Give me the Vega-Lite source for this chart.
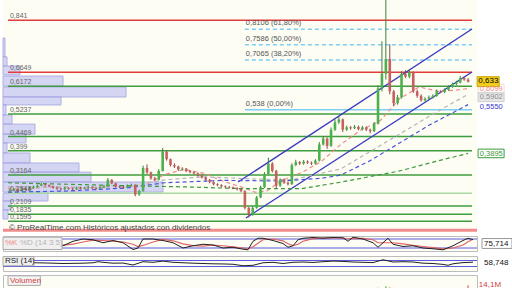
{
"$schema": "https://vega.github.io/schema/vega-lite/v6.json",
"background": "#ffffff",
"padding": 0,
"spacing": 2,
"config": {"font": "Liberation Sans", "view": {"fill": "#fdfdf4", "stroke": null}},
"resolve": {"scale": {"x": "independent", "y": "independent"}},
"datasets": {
"c": [
{"d":2,"o":0.262,"h":0.270,"l":0.258,"c":0.265,"v":1},
{"d":6,"o":0.265,"h":0.272,"l":0.262,"c":0.268,"v":1},
{"d":10,"o":0.268,"h":0.270,"l":0.258,"c":0.262,"v":1},
{"d":14,"o":0.262,"h":0.274,"l":0.260,"c":0.270,"v":1},
{"d":18,"o":0.270,"h":0.273,"l":0.263,"c":0.266,"v":1},
{"d":22,"o":0.266,"h":0.276,"l":0.264,"c":0.272,"v":1},
{"d":26,"o":0.272,"h":0.280,"l":0.270,"c":0.276,"v":1},
{"d":30,"o":0.276,"h":0.284,"l":0.273,"c":0.280,"v":1},
{"d":34,"o":0.280,"h":0.290,"l":0.278,"c":0.285,"v":1},
{"d":38,"o":0.285,"h":0.288,"l":0.278,"c":0.282,"v":1},
{"d":42,"o":0.282,"h":0.284,"l":0.275,"c":0.278,"v":1},
{"d":46,"o":0.278,"h":0.280,"l":0.270,"c":0.274,"v":1},
{"d":50,"o":0.274,"h":0.277,"l":0.266,"c":0.270,"v":1},
{"d":54,"o":0.270,"h":0.273,"l":0.264,"c":0.268,"v":1},
{"d":58,"o":0.268,"h":0.276,"l":0.265,"c":0.272,"v":1},
{"d":62,"o":0.272,"h":0.275,"l":0.266,"c":0.270,"v":1},
{"d":66,"o":0.270,"h":0.273,"l":0.264,"c":0.268,"v":1},
{"d":70,"o":0.268,"h":0.277,"l":0.266,"c":0.273,"v":1},
{"d":74,"o":0.273,"h":0.276,"l":0.267,"c":0.270,"v":1},
{"d":78,"o":0.270,"h":0.276,"l":0.268,"c":0.272,"v":1},
{"d":82,"o":0.272,"h":0.279,"l":0.270,"c":0.275,"v":1},
{"d":86,"o":0.275,"h":0.278,"l":0.269,"c":0.272,"v":1},
{"d":90,"o":0.272,"h":0.275,"l":0.266,"c":0.270,"v":2},
{"d":94,"o":0.270,"h":0.278,"l":0.268,"c":0.274,"v":3},
{"d":98,"o":0.274,"h":0.283,"l":0.272,"c":0.278,"v":2},
{"d":102,"o":0.278,"h":0.306,"l":0.276,"c":0.300,"v":4},
{"d":106,"o":0.300,"h":0.302,"l":0.285,"c":0.288,"v":2},
{"d":110,"o":0.288,"h":0.290,"l":0.274,"c":0.278,"v":1},
{"d":114,"o":0.278,"h":0.281,"l":0.272,"c":0.276,"v":1},
{"d":118,"o":0.276,"h":0.279,"l":0.270,"c":0.274,"v":1},
{"d":122,"o":0.274,"h":0.284,"l":0.272,"c":0.280,"v":3},
{"d":126,"o":0.280,"h":0.287,"l":0.277,"c":0.282,"v":3},
{"d":130,"o":0.282,"h":0.284,"l":0.244,"c":0.250,"v":4},
{"d":134,"o":0.250,"h":0.266,"l":0.246,"c":0.262,"v":3},
{"d":138,"o":0.262,"h":0.348,"l":0.260,"c":0.340,"v":5},
{"d":142,"o":0.340,"h":0.352,"l":0.320,"c":0.325,"v":3},
{"d":146,"o":0.325,"h":0.328,"l":0.300,"c":0.305,"v":3},
{"d":150,"o":0.305,"h":0.310,"l":0.296,"c":0.300,"v":2},
{"d":154,"o":0.300,"h":0.336,"l":0.298,"c":0.330,"v":3},
{"d":158,"o":0.330,"h":0.408,"l":0.328,"c":0.395,"v":5},
{"d":162,"o":0.395,"h":0.400,"l":0.365,"c":0.370,"v":3},
{"d":166,"o":0.370,"h":0.372,"l":0.345,"c":0.350,"v":2},
{"d":170,"o":0.350,"h":0.356,"l":0.340,"c":0.345,"v":2},
{"d":174,"o":0.345,"h":0.348,"l":0.330,"c":0.335,"v":2},
{"d":178,"o":0.335,"h":0.343,"l":0.332,"c":0.338,"v":2},
{"d":182,"o":0.338,"h":0.340,"l":0.326,"c":0.330,"v":2},
{"d":186,"o":0.330,"h":0.333,"l":0.322,"c":0.326,"v":2},
{"d":190,"o":0.326,"h":0.329,"l":0.318,"c":0.322,"v":2},
{"d":194,"o":0.322,"h":0.325,"l":0.311,"c":0.315,"v":1},
{"d":198,"o":0.315,"h":0.318,"l":0.304,"c":0.308,"v":1},
{"d":202,"o":0.308,"h":0.311,"l":0.296,"c":0.300,"v":1},
{"d":206,"o":0.300,"h":0.303,"l":0.288,"c":0.292,"v":1},
{"d":210,"o":0.292,"h":0.295,"l":0.281,"c":0.285,"v":1},
{"d":214,"o":0.285,"h":0.288,"l":0.278,"c":0.282,"v":1},
{"d":218,"o":0.282,"h":0.285,"l":0.274,"c":0.278,"v":2},
{"d":222,"o":0.278,"h":0.281,"l":0.272,"c":0.276,"v":2},
{"d":226,"o":0.276,"h":0.279,"l":0.270,"c":0.274,"v":2},
{"d":230,"o":0.274,"h":0.277,"l":0.268,"c":0.272,"v":1},
{"d":234,"o":0.272,"h":0.275,"l":0.264,"c":0.268,"v":1},
{"d":238,"o":0.268,"h":0.270,"l":0.258,"c":0.262,"v":2},
{"d":242,"o":0.262,"h":0.264,"l":0.200,"c":0.205,"v":3},
{"d":246,"o":0.205,"h":0.208,"l":0.172,"c":0.182,"v":4},
{"d":250,"o":0.182,"h":0.210,"l":0.178,"c":0.205,"v":3},
{"d":254,"o":0.205,"h":0.245,"l":0.202,"c":0.240,"v":3},
{"d":258,"o":0.240,"h":0.280,"l":0.238,"c":0.275,"v":3},
{"d":262,"o":0.275,"h":0.326,"l":0.272,"c":0.320,"v":4},
{"d":266,"o":0.320,"h":0.375,"l":0.318,"c":0.355,"v":5},
{"d":270,"o":0.355,"h":0.360,"l":0.325,"c":0.330,"v":3},
{"d":274,"o":0.330,"h":0.334,"l":0.270,"c":0.280,"v":4},
{"d":278,"o":0.280,"h":0.305,"l":0.276,"c":0.300,"v":2},
{"d":282,"o":0.300,"h":0.304,"l":0.286,"c":0.290,"v":2},
{"d":286,"o":0.290,"h":0.294,"l":0.281,"c":0.285,"v":1},
{"d":290,"o":0.285,"h":0.356,"l":0.283,"c":0.350,"v":3},
{"d":294,"o":0.350,"h":0.368,"l":0.346,"c":0.360,"v":2},
{"d":298,"o":0.360,"h":0.364,"l":0.350,"c":0.355,"v":2},
{"d":302,"o":0.355,"h":0.367,"l":0.351,"c":0.362,"v":2},
{"d":306,"o":0.362,"h":0.366,"l":0.354,"c":0.358,"v":1},
{"d":310,"o":0.358,"h":0.362,"l":0.350,"c":0.355,"v":1},
{"d":314,"o":0.355,"h":0.370,"l":0.352,"c":0.365,"v":2},
{"d":318,"o":0.365,"h":0.428,"l":0.362,"c":0.420,"v":4},
{"d":322,"o":0.420,"h":0.448,"l":0.416,"c":0.440,"v":3},
{"d":326,"o":0.440,"h":0.444,"l":0.405,"c":0.415,"v":3},
{"d":330,"o":0.415,"h":0.478,"l":0.412,"c":0.470,"v":4},
{"d":334,"o":0.470,"h":0.505,"l":0.466,"c":0.495,"v":3},
{"d":338,"o":0.495,"h":0.515,"l":0.490,"c":0.505,"v":3},
{"d":342,"o":0.505,"h":0.508,"l":0.462,"c":0.470,"v":3},
{"d":346,"o":0.470,"h":0.484,"l":0.466,"c":0.478,"v":2},
{"d":350,"o":0.478,"h":0.482,"l":0.470,"c":0.475,"v":2},
{"d":354,"o":0.475,"h":0.486,"l":0.472,"c":0.480,"v":2},
{"d":358,"o":0.480,"h":0.484,"l":0.468,"c":0.472,"v":2},
{"d":362,"o":0.472,"h":0.483,"l":0.468,"c":0.478,"v":2},
{"d":366,"o":0.478,"h":0.481,"l":0.465,"c":0.470,"v":2},
{"d":370,"o":0.470,"h":0.474,"l":0.458,"c":0.465,"v":2},
{"d":374,"o":0.465,"h":0.496,"l":0.462,"c":0.490,"v":3},
{"d":378,"o":0.490,"h":0.620,"l":0.488,"c":0.610,"v":8},
{"d":382,"o":0.610,"h":0.770,"l":0.600,"c":0.660,"v":7},
{"d":386,"o":0.660,"h":0.960,"l":0.640,"c":0.710,"v":12},
{"d":390,"o":0.710,"h":0.760,"l":0.590,"c":0.600,"v":9},
{"d":394,"o":0.600,"h":0.605,"l":0.550,"c":0.560,"v":6},
{"d":398,"o":0.560,"h":0.588,"l":0.555,"c":0.580,"v":4},
{"d":402,"o":0.580,"h":0.668,"l":0.576,"c":0.660,"v":6},
{"d":406,"o":0.660,"h":0.672,"l":0.645,"c":0.650,"v":4},
{"d":410,"o":0.650,"h":0.675,"l":0.645,"c":0.665,"v":4},
{"d":414,"o":0.665,"h":0.668,"l":0.595,"c":0.600,"v":5},
{"d":418,"o":0.600,"h":0.606,"l":0.578,"c":0.585,"v":3},
{"d":422,"o":0.585,"h":0.590,"l":0.565,"c":0.570,"v":3},
{"d":426,"o":0.570,"h":0.580,"l":0.566,"c":0.575,"v":2},
{"d":430,"o":0.575,"h":0.586,"l":0.572,"c":0.580,"v":2},
{"d":434,"o":0.580,"h":0.590,"l":0.576,"c":0.585,"v":2},
{"d":438,"o":0.585,"h":0.606,"l":0.582,"c":0.600,"v":3},
{"d":442,"o":0.600,"h":0.604,"l":0.594,"c":0.598,"v":2},
{"d":446,"o":0.598,"h":0.610,"l":0.594,"c":0.605,"v":2},
{"d":450,"o":0.605,"h":0.620,"l":0.602,"c":0.615,"v":3},
{"d":454,"o":0.615,"h":0.630,"l":0.612,"c":0.625,"v":3},
{"d":458,"o":0.625,"h":0.636,"l":0.620,"c":0.630,"v":3},
{"d":462,"o":0.630,"h":0.652,"l":0.627,"c":0.645,"v":4},
{"d":466,"o":0.645,"h":0.650,"l":0.636,"c":0.640,"v":3},
{"d":470,"o":0.640,"h":0.645,"l":0.630,"c":0.633,"v":14.1}
],
"ma": [
{"k":"r","d":0,"v":0.270},{"k":"r","d":20,"v":0.268},{"k":"r","d":40,"v":0.276},{"k":"r","d":60,"v":0.275},{"k":"r","d":80,"v":0.272},{"k":"r","d":100,"v":0.276},{"k":"r","d":120,"v":0.280},{"k":"r","d":140,"v":0.282},{"k":"r","d":160,"v":0.318},{"k":"r","d":180,"v":0.335},{"k":"r","d":200,"v":0.322},{"k":"r","d":220,"v":0.295},{"k":"r","d":240,"v":0.274},{"k":"r","d":252,"v":0.258},{"k":"r","d":264,"v":0.262},{"k":"r","d":280,"v":0.298},{"k":"r","d":300,"v":0.325},{"k":"r","d":320,"v":0.362},{"k":"r","d":340,"v":0.420},{"k":"r","d":360,"v":0.468},{"k":"r","d":380,"v":0.500},{"k":"r","d":400,"v":0.575},{"k":"r","d":420,"v":0.615},{"k":"r","d":440,"v":0.600},{"k":"r","d":460,"v":0.605},{"k":"r","d":470,"v":0.6099},
{"k":"g","d":0,"v":0.276},{"k":"g","d":60,"v":0.275},{"k":"g","d":120,"v":0.276},{"k":"g","d":160,"v":0.300},{"k":"g","d":200,"v":0.310},{"k":"g","d":250,"v":0.303},{"k":"g","d":290,"v":0.300},{"k":"g","d":340,"v":0.337},{"k":"g","d":372,"v":0.400},{"k":"g","d":400,"v":0.455},{"k":"g","d":430,"v":0.515},{"k":"g","d":470,"v":0.5902},
{"k":"b","d":0,"v":0.258},{"k":"b","d":60,"v":0.262},{"k":"b","d":120,"v":0.272},{"k":"b","d":160,"v":0.290},{"k":"b","d":220,"v":0.298},{"k":"b","d":280,"v":0.296},{"k":"b","d":320,"v":0.305},{"k":"b","d":340,"v":0.316},{"k":"b","d":370,"v":0.365},{"k":"b","d":400,"v":0.425},{"k":"b","d":430,"v":0.485},{"k":"b","d":470,"v":0.555},
{"k":"gr","d":0,"v":0.290},{"k":"gr","d":60,"v":0.285},{"k":"gr","d":120,"v":0.280},{"k":"gr","d":180,"v":0.276},{"k":"gr","d":240,"v":0.270},{"k":"gr","d":300,"v":0.270},{"k":"gr","d":340,"v":0.292},{"k":"gr","d":400,"v":0.330},{"k":"gr","d":440,"v":0.365},{"k":"gr","d":470,"v":0.3895}
],
"prof": [
{"lo":0.717,"hi":0.781,"w":2},{"lo":0.686,"hi":0.717,"w":4},{"lo":0.656,"hi":0.686,"w":17},{"lo":0.618,"hi":0.652,"w":60},{"lo":0.581,"hi":0.615,"w":123},{"lo":0.554,"hi":0.581,"w":58},{"lo":0.520,"hi":0.554,"w":3},{"lo":0.489,"hi":0.520,"w":9},{"lo":0.455,"hi":0.489,"w":32},{"lo":0.425,"hi":0.455,"w":23},{"lo":0.391,"hi":0.425,"w":4},{"lo":0.357,"hi":0.391,"w":27},{"lo":0.326,"hi":0.357,"w":76},{"lo":0.2925,"hi":0.326,"w":88},{"lo":0.2586,"hi":0.2925,"w":160},{"lo":0.228,"hi":0.255,"w":45},{"lo":0.1975,"hi":0.228,"w":8},{"lo":0.167,"hi":0.1975,"w":5}
],
"lv": [
{"v":0.841,"t":"0,841"},{"v":0.6649,"t":"0,6649"},{"v":0.6172,"t":"0,6172"},{"v":0.5237,"t":"0,5237"},{"v":0.4469,"t":"0,4469"},{"v":0.399,"t":"0,399"},{"v":0.3164,"t":"0,3164"},{"v":0.2548,"t":"0,2548"},{"v":0.2109,"t":"0,2109"},{"v":0.1835,"t":"0,1835"},{"v":0.1595,"t":"0,1595"}
],
"fib": [
{"v":0.8106,"t":"0,8106 (61,80%)"},{"v":0.7586,"t":"0,7586 (50,00%)"},{"v":0.7065,"t":"0,7065 (38,20%)"},{"v":0.538,"t":"0,538 (0,00%)"}
],
"chan": [
{"d0":235,"v0":0.2925,"d1":474,"v1":0.8117},
{"d0":243,"v0":0.1704,"d1":474,"v1":0.6658}
],
"rl": [
{"v":0.6099,"t":"0,6099","k":"r"},{"v":0.3895,"t":"0,3895","k":"gr"}
],
"rlg": [
{"v":0.5902,"t":"0,5902"}
],
"rlb": [
{"v":0.555,"t":"0,5550"}
],
"st": [
{"d":0,"K":50,"D":50},{"d":10,"K":55,"D":52},{"d":20,"K":55,"D":54},{"d":30,"K":50,"D":53},{"d":40,"K":45,"D":50},{"d":50,"K":38,"D":44},{"d":60,"K":35,"D":39},{"d":70,"K":65,"D":46},{"d":80,"K":80,"D":60},{"d":90,"K":75,"D":73},{"d":100,"K":55,"D":70},{"d":110,"K":70,"D":66},{"d":120,"K":55,"D":60},{"d":130,"K":10,"D":45},{"d":135,"K":20,"D":30},{"d":140,"K":80,"D":37},{"d":150,"K":80,"D":60},{"d":160,"K":70,"D":77},{"d":170,"K":55,"D":68},{"d":180,"K":20,"D":48},{"d":190,"K":35,"D":36},{"d":200,"K":45,"D":33},{"d":210,"K":40,"D":40},{"d":220,"K":20,"D":35},{"d":230,"K":25,"D":28},{"d":240,"K":12,"D":20},{"d":245,"K":8,"D":15},{"d":250,"K":65,"D":28},{"d":255,"K":85,"D":52},{"d":260,"K":85,"D":75},{"d":270,"K":70,"D":80},{"d":280,"K":50,"D":68},{"d":285,"K":25,"D":48},{"d":290,"K":35,"D":36},{"d":295,"K":75,"D":45},{"d":300,"K":85,"D":65},{"d":310,"K":90,"D":83},{"d":320,"K":85,"D":87},{"d":330,"K":90,"D":88},{"d":340,"K":88,"D":88},{"d":345,"K":65,"D":80},{"d":350,"K":92,"D":82},{"d":360,"K":80,"D":84},{"d":370,"K":55,"D":75},{"d":375,"K":25,"D":55},{"d":385,"K":85,"D":55},{"d":390,"K":45,"D":55},{"d":400,"K":30,"D":48},{"d":410,"K":35,"D":37},{"d":420,"K":20,"D":30},{"d":430,"K":15,"D":22},{"d":440,"K":8,"D":14},{"d":450,"K":35,"D":20},{"d":460,"K":70,"D":40},{"d":465,"K":85,"D":62},{"d":470,"K":75.7,"D":78}
],
"rsi": [
{"d":30,"r":55},{"d":40,"r":54},{"d":50,"r":52},{"d":60,"r":50},{"d":70,"r":51},{"d":80,"r":52},{"d":90,"r":55},{"d":95,"r":62},{"d":100,"r":58},{"d":110,"r":52},{"d":120,"r":53},{"d":130,"r":40},{"d":140,"r":62},{"d":150,"r":58},{"d":160,"r":66},{"d":170,"r":58},{"d":180,"r":55},{"d":190,"r":52},{"d":200,"r":50},{"d":210,"r":48},{"d":220,"r":47},{"d":230,"r":45},{"d":240,"r":35},{"d":250,"r":38},{"d":260,"r":55},{"d":270,"r":58},{"d":280,"r":50},{"d":290,"r":58},{"d":300,"r":60},{"d":310,"r":57},{"d":320,"r":62},{"d":330,"r":66},{"d":340,"r":64},{"d":350,"r":60},{"d":360,"r":58},{"d":370,"r":56},{"d":380,"r":75},{"d":390,"r":60},{"d":400,"r":62},{"d":410,"r":60},{"d":420,"r":52},{"d":430,"r":50},{"d":440,"r":44},{"d":445,"r":38},{"d":450,"r":48},{"d":460,"r":56},{"d":470,"r":58.75}
]
},
"vconcat": [
{
"width": 474, "height": 232,
"resolve": {"scale": {"x": "independent"}},
"layer": [
{"data": {"name": "prof"},
 "mark": {"type": "rect", "fill": "#cacaf3", "stroke": "#9c9ce2", "strokeWidth": 1, "opacity": 0.8},
 "encoding": {
  "x": {"field": "w", "type": "quantitative", "scale": {"domain": [0, 474], "nice": false}, "axis": null},
  "x2": {"datum": 0},
  "y": {"field": "lo", "type": "quantitative", "scale": {"domain": [0.1229, 0.9101], "nice": false, "zero": false},
        "axis": {"orient": "right", "title": null, "values": [0.15,0.2,0.25,0.3,0.35,0.4,0.45,0.5,0.55,0.6,0.65,0.7,0.75,0.8,0.85,0.9],
                 "labelExpr": "indexof([40,55,60,65], round(datum.value*100)) >= 0 ? '' : replace(format(datum.value, '.2~f'), '.', ',')",
                 "labelFontSize": 8, "labelColor": "#333", "labelPadding": 2, "tickSize": 4, "tickColor": "#555", "domainColor": "#666",
                 "grid": true, "gridColor": "#ebebdf"}},
  "y2": {"field": "hi"}
 }},
{"layer": [
 {"data": {"name": "lv"},
  "mark": {"type": "rule", "color": "#3f9c3f", "strokeWidth": 1.5},
  "encoding": {
   "x": {"datum": 0, "type": "quantitative", "scale": {"domain": [0, 474], "nice": false, "zero": false},
         "axis": {"values": [23,67,110,153,198,240,283,328,365,407,450], "grid": true, "gridColor": "#e3e3d6", "labels": false, "ticks": false, "domain": false, "title": null}},
   "x2": {"datum": 474},
   "y": {"field": "v", "type": "quantitative", "scale": {"domain": [0.1229, 0.9101], "nice": false, "zero": false}, "axis": null},
   "color": {"condition": [{"test": "datum.v > 0.8 || (datum.v > 0.66 && datum.v < 0.67)", "value": "#e23c3c"}, {"test": "datum.v > 0.25 && datum.v < 0.26", "value": "#a9d9a2"}], "value": "#3f9c3f"},
   "strokeWidth": {"condition": [{"test": "abs(datum.v - 0.6172) < 0.001 || abs(datum.v - 0.3164) < 0.001 || abs(datum.v - 0.2548) < 0.001", "value": 2.6}, {"test": "datum.v > 0.8", "value": 2}], "value": 1.4}
  }},
 {"data": {"values": [{"v": 0.1285}]},
  "mark": {"type": "rule", "color": "#f08c8c", "strokeWidth": 3},
  "encoding": {"y": {"field": "v", "type": "quantitative", "scale": {"domain": [0.1229, 0.9101], "nice": false, "zero": false}, "axis": null}}},
 {"data": {"name": "fib"},
  "mark": {"type": "rule", "color": "#7dcdf5", "strokeWidth": 1.5, "strokeDash": [4, 3]},
  "encoding": {
   "x": {"datum": 242, "type": "quantitative", "scale": {"domain": [0, 474], "nice": false, "zero": false}, "axis": null},
   "x2": {"datum": 474},
   "y": {"field": "v", "type": "quantitative", "scale": {"domain": [0.1229, 0.9101], "nice": false, "zero": false}, "axis": null},
   "strokeDash": {"condition": {"test": "datum.v < 0.6", "value": [1, 0]}, "value": [4, 3]},
   "strokeWidth": {"condition": {"test": "datum.v < 0.6", "value": 2}, "value": 1.5}
  }},
 {"data": {"name": "chan"},
  "mark": {"type": "rule", "color": "#3a3ac2", "strokeWidth": 1.4},
  "encoding": {
   "x": {"field": "d0", "type": "quantitative", "scale": {"domain": [0, 474], "nice": false, "zero": false}, "axis": null},
   "x2": {"field": "d1"},
   "y": {"field": "v0", "type": "quantitative", "scale": {"domain": [0.1229, 0.9101], "nice": false, "zero": false}, "axis": null},
   "y2": {"field": "v1"}
  }},
 {"data": {"name": "ma"},
  "mark": {"type": "line", "strokeWidth": 1.2, "strokeDash": [4, 3]},
  "encoding": {
   "x": {"field": "d", "type": "quantitative", "scale": {"domain": [0, 474], "nice": false, "zero": false}, "axis": null},
   "y": {"field": "v", "type": "quantitative", "scale": {"domain": [0.1229, 0.9101], "nice": false, "zero": false}, "axis": null},
   "color": {"field": "k", "type": "nominal", "scale": {"domain": ["r", "g", "b", "gr"], "range": ["#f08a8a", "#b5b5b5", "#4a55d8", "#3c9a3c"]}, "legend": null}
  }},
 {"data": {"name": "c"},
  "mark": {"type": "rule", "strokeWidth": 1, "clip": true},
  "encoding": {
   "x": {"field": "d", "type": "quantitative", "scale": {"domain": [0, 474], "nice": false, "zero": false}, "axis": null},
   "y": {"field": "l", "type": "quantitative", "scale": {"domain": [0.1229, 0.9101], "nice": false, "zero": false}, "axis": null},
   "y2": {"field": "h"},
   "color": {"condition": {"test": "datum.c >= datum.o", "value": "#3d7f3d"}, "value": "#8a4a4a"}
  }},
 {"data": {"name": "c"},
  "mark": {"type": "bar", "width": 2.6, "clip": true},
  "encoding": {
   "x": {"field": "d", "type": "quantitative", "scale": {"domain": [0, 474], "nice": false, "zero": false}, "axis": null},
   "y": {"field": "o", "type": "quantitative", "scale": {"domain": [0.1229, 0.9101], "nice": false, "zero": false}, "axis": null},
   "y2": {"field": "c"},
   "color": {"condition": {"test": "datum.c >= datum.o", "value": "#4cb04c"}, "value": "#c96060"}
  }},
 {"data": {"name": "lv"},
  "mark": {"type": "text", "align": "left", "baseline": "bottom", "fontSize": 7, "color": "#666", "dy": -1},
  "encoding": {
   "x": {"datum": 2, "type": "quantitative", "scale": {"domain": [0, 474], "nice": false, "zero": false}, "axis": null},
   "y": {"field": "v", "type": "quantitative", "scale": {"domain": [0.1229, 0.9101], "nice": false, "zero": false}, "axis": null},
   "text": {"field": "t"}
  }},
 {"data": {"name": "fib"},
  "mark": {"type": "text", "align": "left", "baseline": "bottom", "fontSize": 7.5, "color": "#555", "dy": -2},
  "encoding": {
   "x": {"datum": 243, "type": "quantitative", "scale": {"domain": [0, 474], "nice": false, "zero": false}, "axis": null},
   "y": {"field": "v", "type": "quantitative", "scale": {"domain": [0.1229, 0.9101], "nice": false, "zero": false}, "axis": null},
   "text": {"field": "t"}
  }},
 {"data": {"values": [{"v": 0.1375, "t": "© ProRealTime.com  Históricos ajustados con dividendos"}]},
  "mark": {"type": "text", "align": "left", "baseline": "middle", "fontSize": 8, "color": "#444"},
  "encoding": {
   "x": {"datum": 1, "type": "quantitative", "scale": {"domain": [0, 474], "nice": false, "zero": false}, "axis": null},
   "y": {"field": "v", "type": "quantitative", "scale": {"domain": [0.1229, 0.9101], "nice": false, "zero": false}, "axis": null},
   "text": {"field": "t"}
  }},
 {"data": {"name": "rl"},
  "mark": {"type": "point", "filled": true, "opacity": 1, "strokeWidth": 1, "size": 676, "shape": "M-1,-0.33L1,-0.33L1,0.33L-1,0.33Z"},
  "encoding": {
   "x": {"datum": 493.5, "type": "quantitative", "scale": {"domain": [0, 474], "nice": false, "zero": false}, "axis": null},
   "y": {"field": "v", "type": "quantitative", "scale": {"domain": [0.1229, 0.9101], "nice": false, "zero": false}, "axis": null},
   "fill": {"field": "k", "type": "nominal", "scale": {"domain": ["r", "gr"], "range": ["#ffffff", "#ffffff"]}, "legend": null},
   "stroke": {"field": "k", "type": "nominal", "scale": {"domain": ["r", "gr"], "range": ["#f4dada", "#3c9a3c"]}, "legend": null}
  }},
 {"data": {"name": "rlg"},
  "mark": {"type": "point", "filled": true, "opacity": 1, "strokeWidth": 1, "size": 676, "shape": "M-1,-0.115L1,-0.115L1,0.577L-1,0.577Z", "color": "#e6e6e6", "stroke": "#cccccc"},
  "encoding": {
   "x": {"datum": 493.5, "type": "quantitative", "scale": {"domain": [0, 474], "nice": false, "zero": false}, "axis": null},
   "y": {"field": "v", "type": "quantitative", "scale": {"domain": [0.1229, 0.9101], "nice": false, "zero": false}, "axis": null}
  }},
 {"data": {"name": "rlb"},
  "mark": {"type": "point", "filled": true, "opacity": 1, "strokeWidth": 0, "size": 676, "shape": "M-1,-0.154L1,-0.154L1,0.538L-1,0.538Z", "color": "#ffffff"},
  "encoding": {
   "x": {"datum": 493.5, "type": "quantitative", "scale": {"domain": [0, 474], "nice": false, "zero": false}, "axis": null},
   "y": {"field": "v", "type": "quantitative", "scale": {"domain": [0.1229, 0.9101], "nice": false, "zero": false}, "axis": null}
  }},
 {"data": {"values": [{"v": 0.633, "t": "0,633"}]},
  "mark": {"type": "point", "filled": true, "opacity": 1, "color": "#f3cf1c", "stroke": "#c9a400", "strokeWidth": 1, "size": 484, "shape": "M-1,-0.45L1,-0.45L1,0.45L-1,0.45Z"},
  "encoding": {
   "x": {"datum": 490.5, "type": "quantitative", "scale": {"domain": [0, 474], "nice": false, "zero": false}, "axis": null},
   "y": {"field": "v", "type": "quantitative", "scale": {"domain": [0.1229, 0.9101], "nice": false, "zero": false}, "axis": null}
  }},
 {"data": {"values": [{"v": 0.633, "t": "0,633"}]},
  "mark": {"type": "text", "align": "left", "baseline": "middle", "fontSize": 8, "color": "#000", "dy": -0.5},
  "encoding": {
   "x": {"datum": 480.5, "type": "quantitative", "scale": {"domain": [0, 474], "nice": false, "zero": false}, "axis": null},
   "y": {"field": "v", "type": "quantitative", "scale": {"domain": [0.1229, 0.9101], "nice": false, "zero": false}, "axis": null},
   "text": {"field": "t"}
  }},
 {"data": {"name": "rl"},
  "mark": {"type": "text", "align": "left", "baseline": "middle", "fontSize": 7.5, "dy": 0.5},
  "encoding": {
   "x": {"datum": 482, "type": "quantitative", "scale": {"domain": [0, 474], "nice": false, "zero": false}, "axis": null},
   "y": {"field": "v", "type": "quantitative", "scale": {"domain": [0.1229, 0.9101], "nice": false, "zero": false}, "axis": null},
   "text": {"field": "t"},
   "color": {"field": "k", "type": "nominal", "scale": {"domain": ["r", "gr"], "range": ["#e06a6a", "#2e862e"]}, "legend": null}
  }},
 {"data": {"name": "rlg"},
  "mark": {"type": "text", "align": "left", "baseline": "middle", "fontSize": 7.5, "dy": 3, "color": "#8c8c8c"},
  "encoding": {
   "x": {"datum": 482, "type": "quantitative", "scale": {"domain": [0, 474], "nice": false, "zero": false}, "axis": null},
   "y": {"field": "v", "type": "quantitative", "scale": {"domain": [0.1229, 0.9101], "nice": false, "zero": false}, "axis": null},
   "text": {"field": "t"}
  }},
 {"data": {"name": "rlb"},
  "mark": {"type": "text", "align": "left", "baseline": "middle", "fontSize": 7.5, "dy": 2.5, "color": "#3a3acc"},
  "encoding": {
   "x": {"datum": 482, "type": "quantitative", "scale": {"domain": [0, 474], "nice": false, "zero": false}, "axis": null},
   "y": {"field": "v", "type": "quantitative", "scale": {"domain": [0.1229, 0.9101], "nice": false, "zero": false}, "axis": null},
   "text": {"field": "t"}
  }}
]}
]
},
{
"width": 474, "height": 15,
"view": {"stroke": "#bdbdbd", "fill": "#fdfdf4"},
"layer": [
 {"data": {"values": [{"y": 80}, {"y": 20}]},
  "mark": {"type": "rule", "color": "#5a5ae0", "strokeWidth": 1},
  "encoding": {
   "y": {"field": "y", "type": "quantitative", "scale": {"domain": [0, 100], "nice": false}, "axis": null}
  }},
 {"data": {"name": "st"},
  "mark": {"type": "line", "color": "#e06464", "strokeWidth": 1.2},
  "encoding": {
   "x": {"field": "d", "type": "quantitative", "scale": {"domain": [0, 474], "nice": false, "zero": false},
         "axis": {"values": [23,67,110,153,198,240,283,328,365,407,450], "grid": true, "gridColor": "#e3e3d6", "labels": false, "ticks": false, "domain": false, "title": null}},
   "y": {"field": "D", "type": "quantitative", "scale": {"domain": [0, 100], "nice": false}, "axis": null}
  }},
 {"data": {"name": "st"},
  "mark": {"type": "line", "color": "#222", "strokeWidth": 1},
  "encoding": {
   "x": {"field": "d", "type": "quantitative", "scale": {"domain": [0, 474], "nice": false, "zero": false}, "axis": null},
   "y": {"field": "K", "type": "quantitative", "scale": {"domain": [0, 100], "nice": false}, "axis": null}
  }},
 {"data": {"values": [{"a": 0, "b": 59}]},
  "mark": {"type": "rect", "fill": "#efefef", "stroke": "#aaaaaa", "strokeWidth": 1},
  "encoding": {
   "x": {"field": "a", "type": "quantitative", "scale": {"domain": [0, 474], "nice": false, "zero": false}, "axis": null},
   "x2": {"field": "b"},
   "y": {"datum": 10, "type": "quantitative", "scale": {"domain": [0, 100], "nice": false}, "axis": null},
   "y2": {"datum": 92}
  }},
 {"data": {"values": [{"d": 2, "t": "%K", "k": "k"}, {"d": 17, "t": "%D (14 3 5)", "k": "d"}]},
  "mark": {"type": "text", "align": "left", "baseline": "middle", "fontSize": 8},
  "encoding": {
   "x": {"field": "d", "type": "quantitative", "scale": {"domain": [0, 474], "nice": false, "zero": false}, "axis": null},
   "y": {"datum": 51, "type": "quantitative", "scale": {"domain": [0, 100], "nice": false}, "axis": null},
   "text": {"field": "t"},
   "color": {"field": "k", "type": "nominal", "scale": {"domain": ["k", "d"], "range": ["#222222", "#e05050"]}, "legend": null}
  }},
 {"data": {"values": [{"v": 50, "t": "75,714"}]},
  "mark": {"type": "point", "filled": true, "opacity": 1, "color": "#ffffff", "stroke": "#999999", "strokeWidth": 1, "size": 900, "shape": "M-1,-0.33L1,-0.33L1,0.33L-1,0.33Z"},
  "encoding": {
   "x": {"datum": 494, "type": "quantitative", "scale": {"domain": [0, 474], "nice": false, "zero": false}, "axis": null},
   "y": {"field": "v", "type": "quantitative", "scale": {"domain": [0, 100], "nice": false}, "axis": null}
  }},
 {"data": {"values": [{"v": 50, "t": "75,714"}]},
  "mark": {"type": "text", "align": "left", "baseline": "middle", "fontSize": 8, "color": "#111"},
  "encoding": {
   "x": {"datum": 481, "type": "quantitative", "scale": {"domain": [0, 474], "nice": false, "zero": false}, "axis": null},
   "y": {"field": "v", "type": "quantitative", "scale": {"domain": [0, 100], "nice": false}, "axis": null},
   "text": {"field": "t"}
  }}
]
},
{
"width": 474, "height": 15,
"view": {"stroke": "#bdbdbd", "fill": "#fdfdf4"},
"layer": [
 {"data": {"values": [{"y": 70}, {"y": 30}]},
  "mark": {"type": "rule", "color": "#5a5ae0", "strokeWidth": 1},
  "encoding": {
   "y": {"field": "y", "type": "quantitative", "scale": {"domain": [0, 100], "nice": false}, "axis": null}
  }},
 {"data": {"name": "rsi"},
  "mark": {"type": "line", "color": "#222", "strokeWidth": 1},
  "encoding": {
   "x": {"field": "d", "type": "quantitative", "scale": {"domain": [0, 474], "nice": false, "zero": false},
         "axis": {"values": [23,67,110,153,198,240,283,328,365,407,450], "grid": true, "gridColor": "#e3e3d6", "labels": false, "ticks": false, "domain": false, "title": null}},
   "y": {"field": "r", "type": "quantitative", "scale": {"domain": [0, 100], "nice": false}, "axis": null}
  }},
 {"data": {"values": [{"a": 0, "b": 31}]},
  "mark": {"type": "rect", "fill": "#efefef", "stroke": "#aaaaaa", "strokeWidth": 1},
  "encoding": {
   "x": {"field": "a", "type": "quantitative", "scale": {"domain": [0, 474], "nice": false, "zero": false}, "axis": null},
   "x2": {"field": "b"},
   "y": {"datum": 35, "type": "quantitative", "scale": {"domain": [0, 100], "nice": false}, "axis": null},
   "y2": {"datum": 96}
  }},
 {"data": {"values": [{"d": 2, "t": "RSI (14)"}]},
  "mark": {"type": "text", "align": "left", "baseline": "middle", "fontSize": 8, "color": "#222"},
  "encoding": {
   "x": {"field": "d", "type": "quantitative", "scale": {"domain": [0, 474], "nice": false, "zero": false}, "axis": null},
   "y": {"datum": 66, "type": "quantitative", "scale": {"domain": [0, 100], "nice": false}, "axis": null},
   "text": {"field": "t"}
  }},
 {"data": {"values": [{"v": 55, "t": "58,748"}]},
  "mark": {"type": "text", "align": "left", "baseline": "middle", "fontSize": 8, "color": "#111"},
  "encoding": {
   "x": {"datum": 481, "type": "quantitative", "scale": {"domain": [0, 474], "nice": false, "zero": false}, "axis": null},
   "y": {"field": "v", "type": "quantitative", "scale": {"domain": [0, 100], "nice": false}, "axis": null},
   "text": {"field": "t"}
  }}
]
},
{
"width": 474, "height": 16,
"view": {"stroke": "#bdbdbd", "fill": "#fdfdf4"},
"layer": [
 {"data": {"name": "c"},
  "mark": {"type": "bar", "width": 1.6},
  "encoding": {
   "x": {"field": "d", "type": "quantitative", "scale": {"domain": [0, 474], "nice": false, "zero": false},
         "axis": {"values": [23,67,110,153,198,240,283,328,365,407,450], "grid": true, "gridColor": "#e3e3d6", "labels": false, "ticks": false, "domain": false, "title": null}},
   "y": {"field": "v", "type": "quantitative", "scale": {"domain": [0, 40], "nice": false}, "axis": null},
   "y2": {"datum": 0},
   "color": {"condition": {"test": "datum.c >= datum.o", "value": "#7cc47c"}, "value": "#e08a8a"}
  }},
 {"data": {"values": [{"a": 0, "b": 33}]},
  "mark": {"type": "rect", "fill": "#f4f4f4", "stroke": "#aaaaaa", "strokeWidth": 1},
  "encoding": {
   "x": {"field": "a", "type": "quantitative", "scale": {"domain": [0, 474], "nice": false, "zero": false}, "axis": null},
   "x2": {"field": "b"},
   "y": {"datum": 14, "type": "quantitative", "scale": {"domain": [0, 40], "nice": false}, "axis": null},
   "y2": {"datum": 38}
  }},
 {"data": {"values": [{"d": 2, "t": "Volumen"}]},
  "mark": {"type": "text", "align": "left", "baseline": "middle", "fontSize": 8, "color": "#d04040"},
  "encoding": {
   "x": {"field": "d", "type": "quantitative", "scale": {"domain": [0, 474], "nice": false, "zero": false}, "axis": null},
   "y": {"datum": 26, "type": "quantitative", "scale": {"domain": [0, 40], "nice": false}, "axis": null},
   "text": {"field": "t"}
  }},
 {"data": {"values": [{"v": 14.1, "t": "14,1M"}]},
  "mark": {"type": "text", "align": "left", "baseline": "middle", "fontSize": 8, "color": "#d04040"},
  "encoding": {
   "x": {"datum": 481, "type": "quantitative", "scale": {"domain": [0, 474], "nice": false, "zero": false}, "axis": null},
   "y": {"field": "v", "type": "quantitative", "scale": {"domain": [0, 40], "nice": false}, "axis": null},
   "text": {"field": "t"}
  }}
]
}
]
}
